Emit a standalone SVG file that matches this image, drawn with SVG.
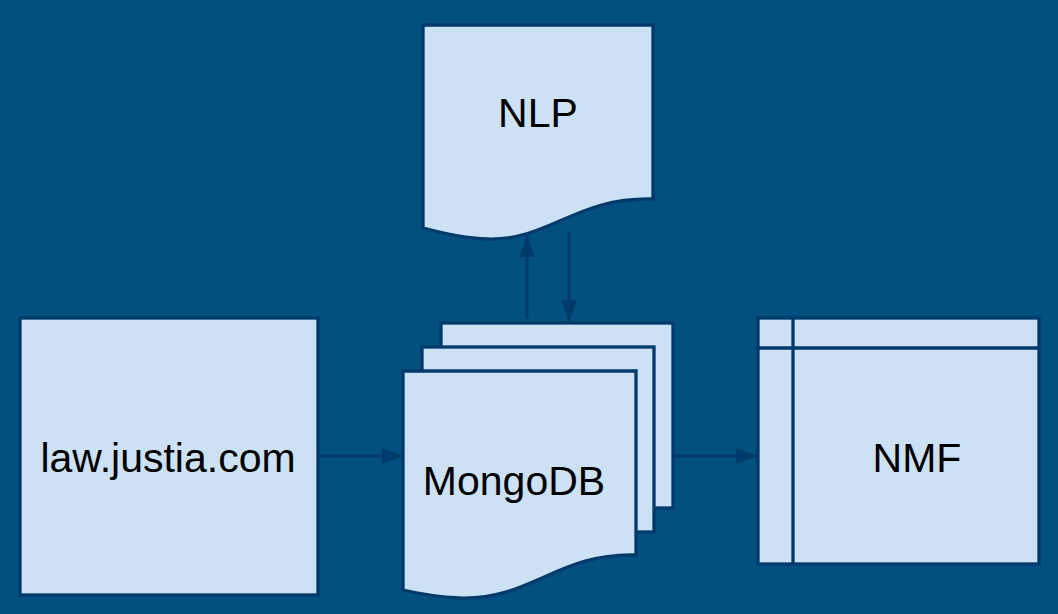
<svg xmlns="http://www.w3.org/2000/svg" width="1058" height="614" viewBox="0 0 1058 614">
<style>
.shape{fill:#cce1f4;stroke:#003a6a;stroke-width:3.3;stroke-linejoin:miter}
.line{fill:none;stroke:#003a6a;stroke-width:3.3}
.conn{fill:none;stroke:#003a6a;stroke-width:3}
.label{font-family:"Liberation Sans",Arial,sans-serif;font-size:41px;fill:#000;text-anchor:middle}
</style>
<defs>
<marker id="arrow" viewBox="0 0 21 16" refX="21" refY="8" markerWidth="21" markerHeight="16" markerUnits="userSpaceOnUse" orient="auto">
<path d="M0,0 L21,8 L0,16 Z" fill="#003a6a"/>
</marker>
</defs>
<rect width="1058" height="614" fill="#02507f"/>
<g id="law">
<rect class="shape" x="20" y="318" width="298" height="277"/>
<text class="label" x="168" y="472">law.justia.com</text>
</g>
<g id="nlp">
<path class="shape" d="M423,25 H653 V199 C575,197 550,241 487,239 C462,238 442,233 423,228 Z"/>
<text class="label" x="538" y="127">NLP</text>
</g>
<g id="mongodb">
<rect class="shape" x="441" y="323" width="232" height="185"/>
<rect class="shape" x="422" y="347" width="232" height="185"/>
<path class="shape" d="M403,371 H636 V555 C557,553 532,600 460,598 C440,597 420,594 403,590 Z"/>
<text class="label" x="514" y="495">MongoDB</text>
</g>
<g id="nmf">
<rect class="shape" x="758" y="318" width="281" height="246"/>
<line class="line" x1="758" y1="348" x2="1039" y2="348"/>
<line class="line" x1="793" y1="318" x2="793" y2="564"/>
<text class="label" x="917" y="472">NMF</text>
</g>
<g id="connectors">
<line class="conn" x1="318" y1="456" x2="403" y2="456" marker-end="url(#arrow)"/>
<line class="conn" x1="673" y1="456" x2="757" y2="456" marker-end="url(#arrow)"/>
<line class="conn" x1="527" y1="319" x2="527" y2="236" marker-end="url(#arrow)"/>
<line class="conn" x1="569" y1="232" x2="569" y2="321" marker-end="url(#arrow)"/>
</g>
</svg>
